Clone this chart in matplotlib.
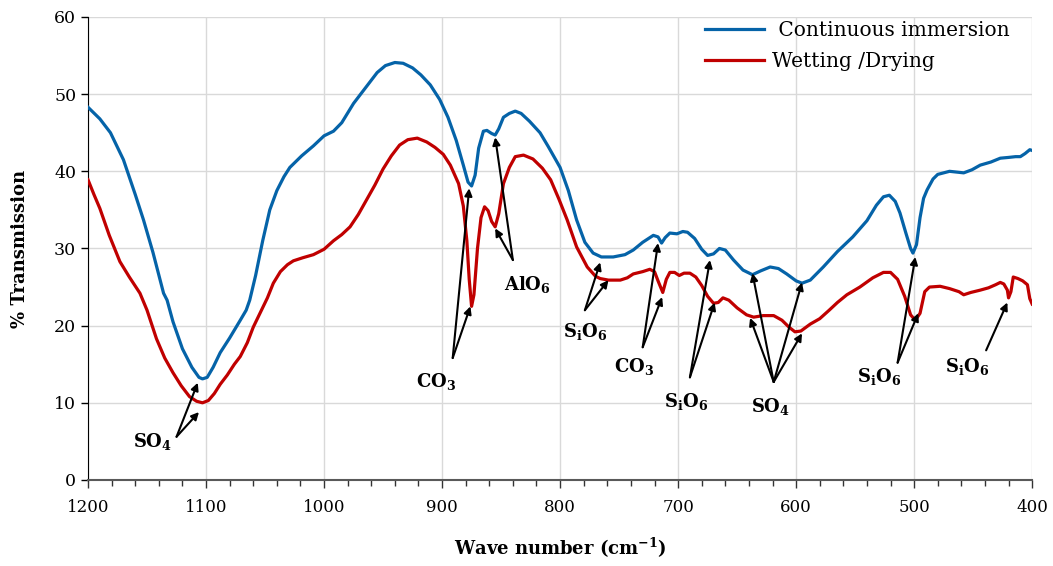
import numpy as np
import matplotlib
matplotlib.use("Agg")
import matplotlib.pyplot as plt
from matplotlib.ticker import MultipleLocator

plt.rcParams["font.family"] = ["DejaVu Serif"]
plt.rcParams["mathtext.fontset"] = "dejavuserif"

# FTIR spectra
blue_wave = [1200, 1190, 1181, 1170, 1160, 1153, 1145, 1136, 1133, 1128, 1120, 1112, 1106, 1103,
             1099, 1094, 1088, 1080, 1071, 1066, 1063, 1058, 1052, 1046, 1040, 1034, 1029, 1019,
             1009, 1000, 992, 985, 975, 964, 955, 948, 940, 933, 925, 918, 910, 902, 895, 888,
             882, 878, 875, 872, 869, 865, 862, 858, 855, 852, 848, 843, 838, 833, 826, 817, 810,
             800, 793, 786, 779, 772, 765, 755, 745, 738, 730, 721, 717, 714, 711, 707, 701, 696,
             692, 686, 680, 675, 670, 665, 660, 653, 645, 637, 630, 622, 615, 608, 600, 595, 588,
             577, 565, 552, 540, 532, 526, 521, 516, 512, 507, 503, 501, 498, 495, 492, 489, 484,
             480, 470, 458, 451, 444, 435, 427, 420, 414, 410, 406, 402, 400]
blue_vals = [48.3, 46.8, 45.0, 41.5, 37.0, 33.7, 29.5, 24.2, 23.3, 20.5, 17.0, 14.6, 13.3, 13.1,
             13.3, 14.6, 16.5, 18.4, 20.7, 22.0, 23.3, 26.5, 31.0, 35.0, 37.5, 39.3, 40.5, 42.0,
             43.3, 44.6, 45.2, 46.3, 48.8, 51.0, 52.8, 53.7, 54.1, 54.0, 53.4, 52.5, 51.2, 49.3,
             47.0, 44.0, 40.8, 38.6, 38.1, 39.5, 43.0, 45.2, 45.3, 44.9, 44.7, 45.5, 47.0, 47.5,
             47.8, 47.5, 46.5, 45.0, 43.2, 40.5, 37.5, 33.7, 30.8, 29.4, 28.9, 28.9, 29.2, 29.8,
             30.8, 31.7, 31.5, 30.7, 31.4, 32.0, 31.9, 32.2, 32.1, 31.3, 29.9, 29.1, 29.3, 30.0,
             29.8, 28.5, 27.2, 26.6, 27.1, 27.6, 27.4, 26.7, 25.8, 25.5, 25.9, 27.6, 29.6, 31.5,
             33.6, 35.6, 36.7, 36.9, 36.1, 34.6, 32.0, 30.0, 29.4, 30.5, 34.0, 36.5, 37.6, 39.0,
             39.6, 40.0, 39.8, 40.2, 40.8, 41.2, 41.7, 41.8, 41.9, 41.9, 42.3, 42.8, 42.7]

red_wave = [1200, 1195, 1190, 1182, 1173, 1165, 1156, 1150, 1142, 1135, 1128, 1121, 1114, 1108,
            1103, 1098, 1093, 1088, 1082, 1076, 1071, 1065, 1060, 1054, 1048, 1043, 1037, 1031,
            1026, 1018, 1009, 1000, 992, 985, 978, 971, 964, 957, 950, 943, 936, 929, 921, 913,
            906, 899, 893, 886, 882, 879, 877, 875, 873, 870, 867, 864, 861, 858, 855, 852, 848,
            843, 838, 831, 823, 815, 808, 801, 794, 786, 777, 770, 766, 759, 749, 743, 738, 730,
            724, 720, 717, 713, 710, 707, 703, 699, 695, 690, 685, 680, 675, 670, 666, 662, 657,
            650, 642, 636, 628, 619, 612, 606, 601, 596, 588, 580, 572, 565, 557, 546, 535, 526,
            520, 514, 508, 503, 499, 495, 491, 487, 478, 470, 462, 458, 452, 444, 437, 431, 427,
            424, 421, 420, 418, 416, 412, 408, 404, 402, 400]
red_vals = [38.9, 37.0, 35.2, 31.7, 28.3, 26.3, 24.2, 22.0, 18.3, 15.8, 13.9, 12.2, 10.8, 10.2,
            10.0, 10.3, 11.2, 12.4, 13.6, 15.0, 16.0, 17.8, 19.8, 21.7, 23.6, 25.5, 27.0, 27.9,
            28.4, 28.8, 29.2, 29.9, 31.0, 31.8, 32.8, 34.4, 36.3, 38.2, 40.3, 42.0, 43.4, 44.1,
            44.3, 43.8, 43.1, 42.2, 40.8, 38.4, 35.5, 31.0, 26.0, 22.5, 24.0, 30.0, 34.0, 35.4,
            34.9, 33.5, 32.8, 34.5, 38.4, 40.5, 41.9, 42.1, 41.6, 40.4, 38.9, 36.4, 33.7, 30.2,
            27.6, 26.4, 26.1, 25.9, 25.9, 26.2, 26.7, 27.0, 27.3, 27.0, 25.8, 24.3, 26.0, 26.9,
            26.9, 26.5, 26.8, 26.8, 26.3, 25.2, 23.8, 22.9, 23.0, 23.6, 23.3, 22.3, 21.4, 21.1,
            21.3, 21.3, 20.7, 19.8, 19.2, 19.3, 20.2, 20.9, 22.0, 23.0, 24.0, 25.0, 26.2, 26.9,
            26.9, 26.0, 23.8, 21.4, 20.7, 21.6, 24.4, 25.0, 25.1, 24.8, 24.4, 24.0, 24.3, 24.6,
            24.9, 25.3, 25.6, 25.4, 24.6, 23.6, 24.4, 26.3, 26.1, 25.8, 25.3, 23.5, 22.8]

# band labels: text, text position, arrow tail, arrow heads (wave number, % T)
band_labels = [r"$\mathbf{SO_4}$", r"$\mathbf{CO_3}$", r"$\mathbf{AlO_6}$", r"$\mathbf{S_iO_6}$",
               r"$\mathbf{CO_3}$", r"$\mathbf{S_iO_6}$", r"$\mathbf{SO_4}$", r"$\mathbf{S_iO_6}$",
               r"$\mathbf{S_iO_6}$"]
label_pos = [(1145, 5.0), (905, 12.8), (828, 25.3), (779, 19.2), (737, 14.7), (693, 10.2),
             (622, 9.5), (530, 13.4), (455, 14.7)]
arrow_tails = [(1125, 5.6), (891, 15.8), (840, 28.5), (779, 22.0), (730, 17.2), (690, 13.3),
               (619, 12.7), (514, 15.2), (439, 16.8)]
arrow_heads = [
    [(1107, 12.6), (1106, 8.8)],
    [(877, 37.8), (876, 22.5)],
    [(855, 44.4), (855, 32.6)],
    [(766, 28.2), (759, 25.9)],
    [(717, 30.7), (713.5, 23.7)],
    [(673, 28.5), (669, 23.0)],
    [(637, 26.8), (639, 21.0), (595, 25.6), (595, 19.0)],
    [(499, 28.9), (496.5, 21.6)],
    [(421, 23.0)],
]

fig = plt.figure(figsize=(10.53, 5.66), dpi=100)
ax = fig.add_axes([0.0836, 0.152, 0.8966, 0.818])

ax.plot(blue_wave, blue_vals, color="#0563a8", lw=2.3, label=" Continuous immersion",
        solid_joinstyle="round", zorder=3)
ax.plot(red_wave, red_vals, color="#c00000", lw=2.3, label="Wetting /Drying",
        solid_joinstyle="round", zorder=3)

for text, pos, tail, heads in zip(band_labels, label_pos, arrow_tails, arrow_heads):
    ax.text(pos[0], pos[1], text, ha="center", va="center", fontsize=13, zorder=5)
    for head in heads:
        ax.annotate("", xy=head, xytext=tail,
                    arrowprops=dict(arrowstyle="-|>", color="black", lw=1.5,
                                    mutation_scale=11, shrinkA=0, shrinkB=0),
                    zorder=4)

ax.set_xlim(1200, 400)
ax.set_ylim(0, 60)
ax.xaxis.set_major_locator(MultipleLocator(100))
ax.xaxis.set_minor_locator(MultipleLocator(20))
ax.yaxis.set_major_locator(MultipleLocator(10))
ax.grid(True, which="major", color="#d9d9d9", lw=1.0, zorder=0)
ax.set_axisbelow(True)

for side in ["top", "right"]:
    ax.spines[side].set_visible(False)
ax.spines["left"].set_color("black")
ax.spines["bottom"].set_color("#595959")
ax.spines["bottom"].set_linewidth(1.5)

ax.tick_params(axis="x", which="major", direction="out", length=6, width=1, color="#333333",
               labelsize=12, pad=8)
ax.tick_params(axis="x", which="minor", direction="out", length=4, width=1, color="#333333")
ax.tick_params(axis="y", which="major", direction="out", length=5, width=1, labelsize=12.5)

ax.set_xlabel(r"Wave number (cm$^{\mathbf{-1}}$)", fontsize=13, fontweight="bold", labelpad=14)
ax.set_ylabel("% Transmission", fontsize=13, fontweight="bold", labelpad=18)

ax.legend(loc="upper right", bbox_to_anchor=(0.995, 1.03), frameon=False, fontsize=14.5,
          handlelength=2.9, handletextpad=0.4, labelspacing=0.6)

fig.savefig("out.png", dpi=100)
